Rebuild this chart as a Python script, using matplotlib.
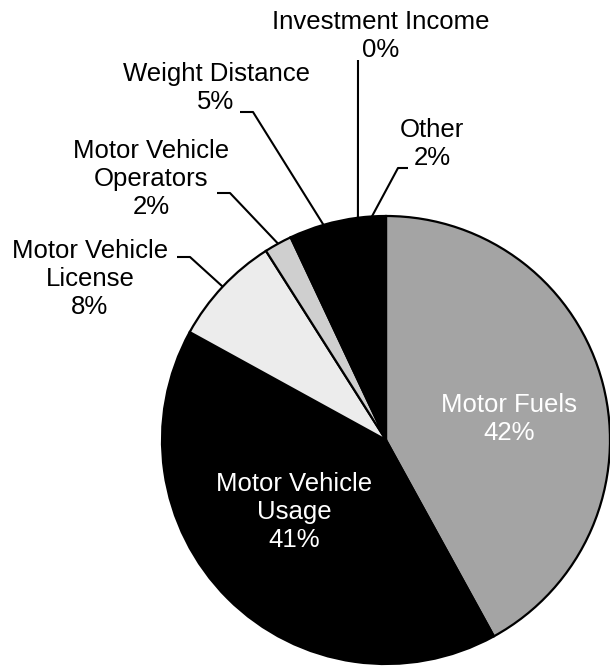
import numpy as np
import matplotlib
matplotlib.use("Agg")
import matplotlib.pyplot as plt

plt.rcParams['font.family'] = ['Liberation Sans', 'DejaVu Sans']

# revenue shares (%), clockwise from 12 o'clock
sources = ['Motor Fuels', 'Motor Vehicle Usage', 'Motor Vehicle License',
           'Motor Vehicle Operators', 'Weight Distance', 'Investment Income', 'Other']
shares = [42, 41, 8, 2, 5, 0, 2]
label_text = ['Motor Fuels\n42%', 'Motor Vehicle\nUsage\n41%', 'Motor Vehicle\nLicense\n8%',
              'Motor Vehicle\nOperators\n2%', 'Weight Distance\n5%', 'Investment Income\n0%',
              'Other\n2%']
colors = ['#a4a4a4', '#000000', '#ececec', '#cfcfcf', '#000000', '#000000', '#000000']

W, H = 610, 667
CX, CY, R = 386, 440, 224   # pie centre / radius in pixels


def px(x, y):
    # pixel position -> data units (radius = 1)
    return (x - CX) / R, (CY - y) / R


fig = plt.figure(figsize=(W / 100, H / 100), dpi=100)
ax = fig.add_axes([0, 0, 1, 1])

wedges, _ = ax.pie(shares, colors=colors, startangle=90, counterclock=False, radius=1,
                   wedgeprops=dict(edgecolor='black', linewidth=1.6))

ax.set_xlim(px(0, 0)[0], px(W, 0)[0])
ax.set_ylim(px(0, H)[1], px(0, 0)[1])
ax.set_aspect('auto')
ax.axis('off')

# text block centres (pixels) and leader polylines start (pixels)
text_pos = [(509, 419), (294, 512), (90, 279), (151, 179), (216, 88), (381, 36), (432, 144)]
leaders = [None, None,
           [(177, 257), (190, 257)],
           [(217, 193), (230, 193)],
           [(240, 112), (253, 112)],
           [(358, 60)],
           [(408, 168), (398, 168)]]
text_col = ['white', 'white', 'black', 'black', 'black', 'black', 'black']

for i, w in enumerate(wedges):
    tx, ty = px(*text_pos[i])
    ax.text(tx, ty, label_text[i], ha='center', va='center', fontsize=18.5,
            color=text_col[i], linespacing=1.2)
    if leaders[i] is not None:
        mid = np.deg2rad((w.theta1 + w.theta2) / 2)
        pts = [px(*p) for p in leaders[i]] + [(np.cos(mid), np.sin(mid))]
        xs, ys = zip(*pts)
        ax.plot(xs, ys, color='black', lw=1.5, solid_capstyle='butt')

fig.savefig('out.png', dpi=100, facecolor='white')
